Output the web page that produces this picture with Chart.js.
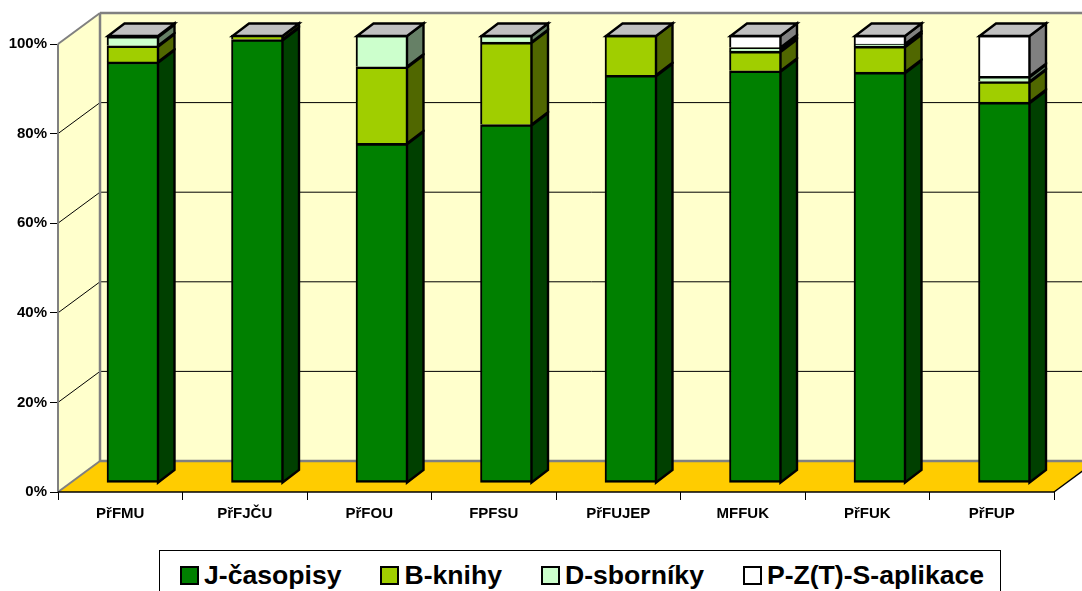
<!DOCTYPE html>
<html lang="cs">
<head>
<meta charset="utf-8">
<title>Publikace podle fakult</title>
<script src="https://cdn.jsdelivr.net/npm/chart.js@4"></script>
<style>
  html, body { margin: 0; padding: 0; background: #fff; }
  #wrap { position: relative; width: 1082px; height: 591px; overflow: hidden; }
  #chart { position: absolute; left: 0; top: 0; }
  #legend {
    position: absolute; left: 159px; top: 550px; width: 842px; height: 50px;
    border: 1.5px solid #000; background: #fff;
    display: flex; align-items: flex-start; gap: 39px; padding-left: 20px; box-sizing: border-box;
    font: bold 26.6px "Liberation Sans", Arial, sans-serif; color: #000;
  }
  #legend .item { display: flex; align-items: center; gap: 5px; margin-top: 9px; line-height: 30px; white-space: nowrap; }
  #legend .swatch { width: 19px; height: 19px; box-sizing: border-box; border: 2px solid #000; }
</style>
</head>
<body>
<div id="wrap">
  <canvas id="chart" width="1082" height="591"></canvas>
  <div id="legend"></div>
</div>
<script>
const categories = ['PřFMU', 'PřFJČU', 'PřFOU', 'FPFSU', 'PřFUJEP', 'MFFUK', 'PřFUK', 'PřFUP'];
const seriesNames = ['J-časopisy', 'B-knihy', 'D-sborníky', 'P-Z(T)-S-aplikace'];

// hodnoty v %
const casopisy = [94.0, 99.0, 75.8, 80.0, 91.0, 92.0, 91.7, 85.0];
const knihy    = [3.6, 1.0, 17.1, 18.4, 9.0, 4.4, 5.8, 4.6];
const sborniky = [2.1, 0, 7.1, 1.6, 0, 0.8, 0.5, 1.2];
const aplikace = [0.3, 0, 0, 0, 0, 2.8, 2.0, 9.2];
const seriesValues = [casopisy, knihy, sborniky, aplikace];

const faceColors = ['#008000', '#A0CE00', '#CCFFCC', '#FFFFFF'];
const sideColors = ['#004000', '#506700', '#668066', '#808080'];
const topColor = '#C0C0C0';

// 3D geometrie
const WALL_DX = 42, WALL_DY = -31;
const BAR_SHIFT_X = 12.75, BAR_SHIFT_Y = -9;
const BAR_DX = 16.5, BAR_DY = -12.5;
const EDGE = 2.4;
const FONT = '"Liberation Sans", Arial, sans-serif';

function poly(ctx, pts, fill, stroke, lw) {
  ctx.beginPath();
  pts.forEach((p, i) => i ? ctx.lineTo(p[0], p[1]) : ctx.moveTo(p[0], p[1]));
  ctx.closePath();
  if (fill) { ctx.fillStyle = fill; ctx.fill(); }
  if (stroke) { ctx.strokeStyle = stroke; ctx.lineWidth = lw; ctx.lineJoin = 'miter'; ctx.stroke(); }
}

function line(ctx, x1, y1, x2, y2, color, lw) {
  ctx.beginPath();
  ctx.moveTo(x1, y1);
  ctx.lineTo(x2, y2);
  ctx.strokeStyle = color;
  ctx.lineWidth = lw;
  ctx.stroke();
}

const box3d = {
  id: 'box3d',
  // steny a podlaha
  beforeDatasetsDraw(chart) {
    const { ctx, chartArea: a, scales: { y } } = chart;
    const L = a.left, R = a.right, T = a.top, B = a.bottom;
    ctx.save();
    poly(ctx, [[L + WALL_DX, T + WALL_DY], [R + WALL_DX, T + WALL_DY], [R + WALL_DX, B + WALL_DY], [L + WALL_DX, B + WALL_DY]], '#FFFFCC');
    poly(ctx, [[L, T], [L + WALL_DX, T + WALL_DY], [L + WALL_DX, B + WALL_DY], [L, B]], '#FFFFCC');
    poly(ctx, [[L, B], [R, B], [R + WALL_DX, B + WALL_DY], [L + WALL_DX, B + WALL_DY]], '#FFCC00');
    y.ticks.forEach(t => {
      if (t.value === 0 || t.value === 100) return;
      const py = y.getPixelForValue(t.value);
      line(ctx, L, py, L + WALL_DX, py + WALL_DY, '#000', 1);
      line(ctx, L + WALL_DX, py + WALL_DY, R + WALL_DX, py + WALL_DY, '#000', 1);
    });
    // šedé hrany
    ctx.lineCap = 'butt';
    line(ctx, L, B, L, T, '#808080', 2);
    line(ctx, L, T, L + WALL_DX, T + WALL_DY, '#808080', 2);
    line(ctx, L + WALL_DX, T + WALL_DY, R + WALL_DX, T + WALL_DY, '#808080', 2.5);
    line(ctx, L + WALL_DX, T + WALL_DY, L + WALL_DX, B + WALL_DY, '#808080', 2.5);
    line(ctx, L + WALL_DX, B + WALL_DY, R + WALL_DX, B + WALL_DY, '#808080', 2.5);
    line(ctx, L, B, L + WALL_DX, B + WALL_DY, '#808080', 2);
    // přední hrany podlahy
    line(ctx, L, B, R, B, '#000', 1.5);
    line(ctx, R, B, R + WALL_DX, B + WALL_DY, '#000', 1.5);
    ctx.restore();
  },
  beforeDatasetDraw(chart) {
    chart.ctx.save();
    chart.ctx.translate(BAR_SHIFT_X, BAR_SHIFT_Y);
  },
  // boční stěny sloupců
  afterDatasetDraw(chart, args) {
    const ctx = chart.ctx;
    const meta = args.meta;
    meta.data.forEach(bar => {
      const { x, y, base, width } = bar.getProps(['x', 'y', 'base', 'width'], true);
      if (base - y < 0.2) return;
      const r = x + width / 2 - 1;
      poly(ctx, [[r, y + 1], [r + BAR_DX, y + 1 + BAR_DY], [r + BAR_DX, base + BAR_DY], [r, base]], sideColors[args.index], '#000', EDGE);
    });
    ctx.restore();
  },
  // horní plocha
  afterDatasetsDraw(chart) {
    const ctx = chart.ctx;
    const last = chart.getDatasetMeta(seriesValues.length - 1);
    ctx.save();
    ctx.translate(BAR_SHIFT_X, BAR_SHIFT_Y);
    last.data.forEach(bar => {
      const { x, y, width } = bar.getProps(['x', 'y', 'width'], true);
      const l = x - width / 2 + 1, r = x + width / 2 - 1, t = y + 1;
      poly(ctx, [[l, t], [r, t], [r + BAR_DX, t + BAR_DY], [l + BAR_DX, t + BAR_DY]], topColor, '#000', EDGE);
    });
    ctx.restore();
  }
};

const chart = new Chart(document.getElementById('chart').getContext('2d'), {
  type: 'bar',
  data: {
    labels: categories,
    datasets: seriesNames.map((name, i) => ({
      label: name,
      data: seriesValues[i],
      backgroundColor: faceColors[i],
      borderColor: '#000',
      borderWidth: { top: 2.6, bottom: 2.6, left: 2, right: 2 },
      borderSkipped: i === 0 ? false : 'start',
      barThickness: 52,
      clip: false,
    })),
  },
  options: {
    responsive: false,
    animation: false,
    layout: { padding: { top: 44, right: 28, left: 0, bottom: 0 } },
    plugins: { legend: { display: false }, tooltip: { enabled: false } },
    scales: {
      x: {
        stacked: true,
        afterFit: s => { s.height = 99; },
        grid: { drawOnChartArea: false, color: '#000', tickLength: 8, lineWidth: 1 },
        border: { display: false },
        ticks: { color: '#000', padding: 5, maxRotation: 0, font: { family: FONT, size: 15, weight: 'bold' } },
      },
      y: {
        stacked: true,
        min: 0,
        max: 100,
        afterFit: s => { s.width = 58; },
        grid: { drawOnChartArea: false, color: '#000', tickLength: 8, lineWidth: 1 },
        border: { display: false },
        ticks: { stepSize: 20, color: '#000', padding: 3, font: { family: FONT, size: 15, weight: 'bold' }, callback: v => v + '%' },
      },
    },
  },
  plugins: [box3d],
});

// legenda
document.getElementById('legend').innerHTML = seriesNames.map((name, i) =>
  `<div class="item"><span class="swatch" style="background:${faceColors[i]}"></span><span>${name}</span></div>`
).join('');
</script>
</body>
</html>
